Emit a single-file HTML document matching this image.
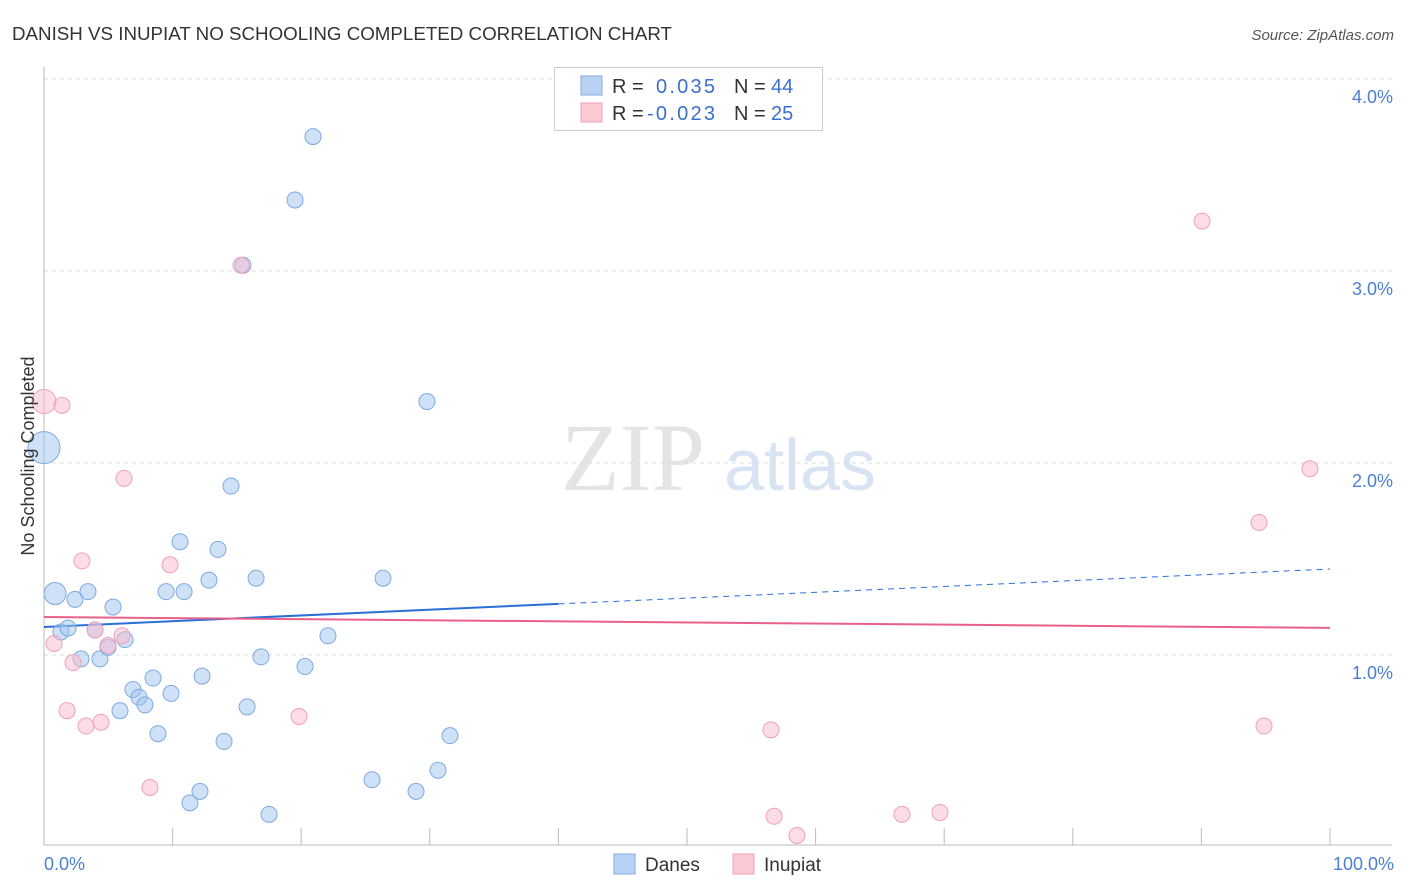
<!DOCTYPE html>
<html><head><meta charset="utf-8"><style>
body{margin:0;background:#fff;font-family:"Liberation Sans",sans-serif;}
svg{display:block}
</style></head><body>
<svg id="chart" width="1406" height="892" xmlns="http://www.w3.org/2000/svg">
<text x="12" y="40" font-size="18" fill="#333" textLength="660" lengthAdjust="spacingAndGlyphs">DANISH VS INUPIAT NO SCHOOLING COMPLETED CORRELATION CHART</text>
<text x="1394" y="40" font-size="15" fill="#555" font-style="italic" text-anchor="end">Source: ZipAtlas.com</text>
<text x="633" y="490" font-size="96" fill="#e4e4e4" text-anchor="middle" font-family="Liberation Serif,serif">ZIP</text>
<text x="800" y="490" font-size="72" fill="#d8e4f4" text-anchor="middle">atlas</text>
<g id="grid"></g>
<g id="axes"></g>
<g id="trends"></g>
<g id="points"></g>
<text transform="translate(34,456) rotate(-90)" font-size="18" fill="#333" text-anchor="middle">No Schooling Completed</text>
<text x="44" y="870" font-size="18" fill="#4a7fd4">0.0%</text>
<text x="1394" y="870" font-size="18" fill="#4a7fd4" text-anchor="end">100.0%</text>
<g>
<rect x="554.5" y="67.5" width="268" height="63" fill="#fff" stroke="#ccc"/>
<rect x="581" y="76" width="21" height="19" fill="#b8d2f4" stroke="#7fa9e0"/>
<text x="612" y="93" font-size="20" fill="#333">R =</text><text x="656" y="93" font-size="20" fill="#3a70cc" textLength="59">0.035</text>
<text x="734" y="93" font-size="20" fill="#333">N =</text><text x="771" y="93" font-size="20" fill="#3a70cc">44</text>
<rect x="581" y="103" width="21" height="19" fill="#fbc8d6" stroke="#f0a0b8"/>
<text x="612" y="120" font-size="20" fill="#333">R =</text><text x="647" y="120" font-size="20" fill="#3a70cc" textLength="68">-0.023</text>
<text x="734" y="120" font-size="20" fill="#333">N =</text><text x="771" y="120" font-size="20" fill="#3a70cc">25</text>
</g>
<g><rect x="614" y="854" width="21" height="20" fill="#b8d2f4" stroke="#7fa9e0"/><text x="645" y="871" font-size="19" fill="#333">Danes</text></g>
<g><rect x="733" y="854" width="21" height="20" fill="#fbc8d6" stroke="#f0a0b8"/><text x="764" y="871" font-size="19" fill="#333">Inupiat</text></g>
</svg>
<script>
const yTicks=[1,2,3,4];
const xTicks=[0,10,20,30,40,50,60,70,80,90,100];
const danesX=[0.86,0,1.32,1.87,2.41,3.42,2.88,4.35,5.37,3.97,4.98,6.30,5.91,6.92,7.39,7.85,8.48,8.86,9.88,9.49,10.89,10.58,12.29,12.83,13.53,14.54,14.00,11.35,12.13,15.79,16.49,16.87,15.47,19.52,20.92,20.30,22.08,17.50,25.51,26.36,28.93,29.78,30.64,31.57];
const danesY=[1.32,2.08,1.12,1.14,1.29,1.33,0.98,0.98,1.25,1.13,1.04,1.08,0.71,0.82,0.78,0.74,0.88,0.59,0.80,1.33,1.33,1.59,0.89,1.39,1.55,1.88,0.55,0.23,0.29,0.73,1.40,0.99,3.03,3.37,3.70,0.94,1.10,0.17,0.35,1.40,0.29,2.32,0.40,0.58];
const danesR=[11,16,8,8,8,8,8,8,8,8,8,8,8,8,8,8,8,8,8,8,8,8,8,8,8,8,8,8,8,8,8,8,8,8,8,8,8,8,8,8,8,8,8,8];
const inuX=[0,1.40,2.95,6.22,0.78,2.26,1.79,3.27,4.43,3.97,4.98,6.07,8.24,9.80,15.32,19.83,56.53,56.77,58.55,66.72,69.67,90.05,94.48,94.87,98.44];
const inuY=[2.32,2.30,1.49,1.92,1.06,0.96,0.71,0.63,0.65,1.13,1.05,1.10,0.31,1.47,3.03,0.68,0.61,0.16,0.06,0.17,0.18,3.26,1.69,0.63,1.97];
const inuR=[12,8,8,8,8,8,8,8,8,8,8,8,8,8,8,8,8,8,8,8,8,8,8,8,8];
const danesTrend=[1.146,1.266,1.448]; // at 0,40,100
const inuTrend=[1.198,1.141]; // at 0,100
const NS="http://www.w3.org/2000/svg";
const sx=v=>44+v*12.86, sy=v=>847-v*192;
function mk(t,a,p){const e=document.createElementNS(NS,t);for(const k in a)e.setAttribute(k,a[k]);p.appendChild(e);return e;}
const grid=document.getElementById('grid'),axes=document.getElementById('axes');
yTicks.forEach(v=>{
 const l=mk('line',{x1:44,x2:1392,y1:sy(v),y2:sy(v),stroke:'#ddd','stroke-dasharray':'4,4'},grid);
 
 
 const t=mk('text',{x:1393,y:sy(v)+24,'font-size':18,fill:'#4a7fd4','text-anchor':'end'},grid);
 t.textContent=v.toFixed(1)+'%';
 
 
});
const ax=mk('line',{x1:44,x2:1392,y1:845,y2:845,stroke:'#bbb'},axes);


const ay=mk('line',{x1:44,x2:44,y1:67,y2:845,stroke:'#bbb'},axes);


xTicks.forEach(v=>{
 const l=mk('line',{x1:sx(v),x2:sx(v),y1:828,y2:845,stroke:'#bbb'},axes);
 
 
});
const tr=document.getElementById('trends');
const b1=mk('line',{x1:sx(0),y1:sy(danesTrend[0]),x2:sx(40),y2:sy(danesTrend[1]),stroke:'#2a6fd6','stroke-width':2},tr);


const b2=mk('line',{x1:sx(40),y1:sy(danesTrend[1]),x2:sx(100),y2:sy(danesTrend[2]),stroke:'#2a6fd6','stroke-width':1,'stroke-dasharray':'6,5'},tr);


const p1=mk('line',{x1:sx(0),y1:sy(inuTrend[0]),x2:sx(100),y2:sy(inuTrend[1]),stroke:'#e8608a','stroke-width':2},tr);


const pts=document.getElementById('points');
danesX.forEach((x,i)=>{
 const c=mk('circle',{cx:sx(x),cy:sy(danesY[i]),r:danesR[i],fill:'rgba(160,196,240,0.5)',stroke:'#7fa9e0','stroke-width':1},pts);
 
 
});
inuX.forEach((x,i)=>{
 const c=mk('circle',{cx:sx(x),cy:sy(inuY[i]),r:inuR[i],fill:'rgba(250,185,205,0.5)',stroke:'#f0a0b8','stroke-width':1},pts);
 
 
});
</script>
</body></html>
